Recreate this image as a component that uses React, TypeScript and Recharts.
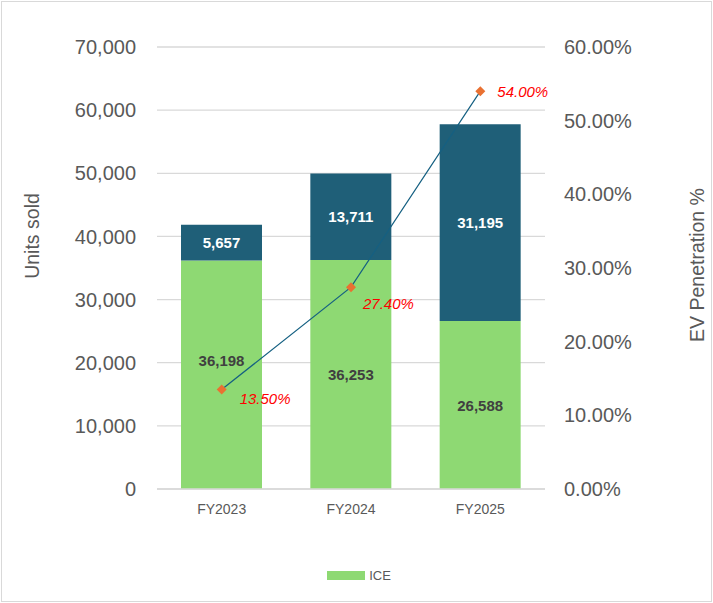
import React from 'react';
import {
  ComposedChart,
  Bar,
  Line,
  XAxis,
  YAxis,
  CartesianGrid,
  Legend,
  LabelList,
} from 'recharts';

const categories = ['FY2023', 'FY2024', 'FY2025'];
const iceUnits = [36198, 36253, 26588];
const evUnits = [5657, 13711, 31195];
const evPenetration = [13.5, 27.4, 54.0];
const unitTicks = [0, 10000, 20000, 30000, 40000, 50000, 60000, 70000];
const pctTicks = [0, 10, 20, 30, 40, 50, 60];

const data = categories.map((c, i) => ({
  name: c,
  ice: iceUnits[i],
  ev: evUnits[i],
  pen: evPenetration[i],
}));

const FONT = '"Liberation Sans", Arial, sans-serif';
const GREY = '#595959';
const ICE_COLOR = '#8ED973';
const EV_COLOR = '#1F5F78';
const LINE_COLOR = '#156082';
const DOT_COLOR = '#E97132';

const fmtInt = (v: number) => v.toLocaleString('en-US');

const iceLabel = (props: any) => {
  const { x, y, width, height, value, index } = props;
  const dy = index === 0 ? -14 : 0;
  return (
    <text
      x={x + width / 2}
      y={y + height / 2 + dy}
      textAnchor="middle"
      dominantBaseline="central"
      fontSize={15}
      fontWeight="bold"
      fill="#404040"
      fontFamily={FONT}
    >
      {fmtInt(value)}
    </text>
  );
};

const evLabel = (props: any) => {
  const { x, y, width, height, value } = props;
  return (
    <text
      x={x + width / 2}
      y={y + height / 2}
      textAnchor="middle"
      dominantBaseline="central"
      fontSize={15}
      fontWeight="bold"
      fill="#FFFFFF"
      fontFamily={FONT}
    >
      {fmtInt(value)}
    </text>
  );
};

const penLabel = (props: any) => {
  const { x, y, value, index } = props;
  const dx = index === 2 ? 17 : index === 1 ? 12 : 18;
  const dy = index === 2 ? 0 : index === 1 ? 16 : 9;
  return (
    <text
      x={x + dx}
      y={y + dy}
      textAnchor="start"
      dominantBaseline="central"
      fontSize={15}
      fontStyle="italic"
      fill="#FF0000"
      fontFamily={FONT}
    >
      {Number(value).toFixed(2) + '%'}
    </text>
  );
};

const diamondDot = (props: any) => {
  const { cx, cy, index } = props;
  const r = 5;
  return (
    <path
      key={'dot-' + index}
      d={`M${cx},${cy - r}L${cx + r},${cy}L${cx},${cy + r}L${cx - r},${cy}Z`}
      fill={DOT_COLOR}
    />
  );
};

const leftTitle = () => (
  <text
    x={32}
    y={236}
    transform="rotate(-90, 32, 236)"
    textAnchor="middle"
    dominantBaseline="central"
    fontSize={19.5}
    fill={GREY}
    fontFamily={FONT}
  >
    Units sold
  </text>
);

const rightTitle = () => (
  <text
    x={697}
    y={265}
    transform="rotate(-90, 697, 265)"
    textAnchor="middle"
    dominantBaseline="central"
    fontSize={19.5}
    fill={GREY}
    fontFamily={FONT}
  >
    EV Penetration %
  </text>
);

const legendContent = () => (
  <div
    style={{
      height: 20,
      display: 'flex',
      justifyContent: 'center',
      alignItems: 'center',
      paddingLeft: 5,
      fontFamily: FONT,
    }}
  >
    <span style={{ display: 'inline-block', width: 38, height: 9, background: ICE_COLOR, marginRight: 4 }} />
    <span style={{ fontSize: 13, color: GREY }}>ICE</span>
  </div>
);

export default function App() {
  return (
    <div style={{ position: 'absolute', left: 0, top: 0, width: 713, height: 603, fontFamily: FONT }}>
      <div
        style={{
          position: 'absolute',
          left: 1,
          top: 1,
          width: 711,
          height: 601,
          boxSizing: 'border-box',
          border: '1px solid #D9D9D9',
        }}
      />
      <div style={{ position: 'absolute', left: 0, top: 0 }}>
        <ComposedChart
          width={713}
          height={603}
          data={data}
          margin={{ top: 47, right: 0, bottom: 64, left: 0 }}
        >
          <CartesianGrid yAxisId="left" vertical={false} stroke="#D9D9D9" strokeWidth={1.3} />
          <XAxis
            dataKey="name"
            height={30}
            tickLine={false}
            axisLine={{ stroke: '#D9D9D9', strokeWidth: 1.5 }}
            tick={{ fontSize: 14, fill: GREY }}
            tickMargin={9}
          />
          <YAxis
            yAxisId="left"
            width={157}
            domain={[0, 70000]}
            ticks={unitTicks}
            tickFormatter={fmtInt}
            axisLine={false}
            tickLine={false}
            tickMargin={15}
            tick={{ fontSize: 20, fill: GREY }}
            label={{ content: leftTitle }}
          />
          <YAxis
            yAxisId="right"
            orientation="right"
            width={168}
            domain={[0, 60]}
            ticks={pctTicks}
            tickFormatter={(v: number) => v.toFixed(2) + '%'}
            axisLine={false}
            tickLine={false}
            tickMargin={13}
            tick={{ fontSize: 20, fill: GREY }}
            label={{ content: rightTitle }}
          />
          <Legend content={legendContent} wrapperStyle={{ bottom: 18, left: 0, width: 713 }} />
          <Bar yAxisId="left" dataKey="ice" name="ICE" stackId="a" fill={ICE_COLOR} barSize={81} isAnimationActive={false}>
            <LabelList dataKey="ice" content={iceLabel} />
          </Bar>
          <Bar yAxisId="left" dataKey="ev" name="EV" stackId="a" fill={EV_COLOR} barSize={81} isAnimationActive={false} legendType="none">
            <LabelList dataKey="ev" content={evLabel} />
          </Bar>
          <Line
            yAxisId="right"
            dataKey="pen"
            name="EV Penetration"
            type="linear"
            stroke={LINE_COLOR}
            strokeWidth={1.2}
            dot={diamondDot}
            activeDot={false}
            legendType="none"
            isAnimationActive={false}
          >
            <LabelList dataKey="pen" content={penLabel} />
          </Line>
        </ComposedChart>
      </div>
    </div>
  );
}
